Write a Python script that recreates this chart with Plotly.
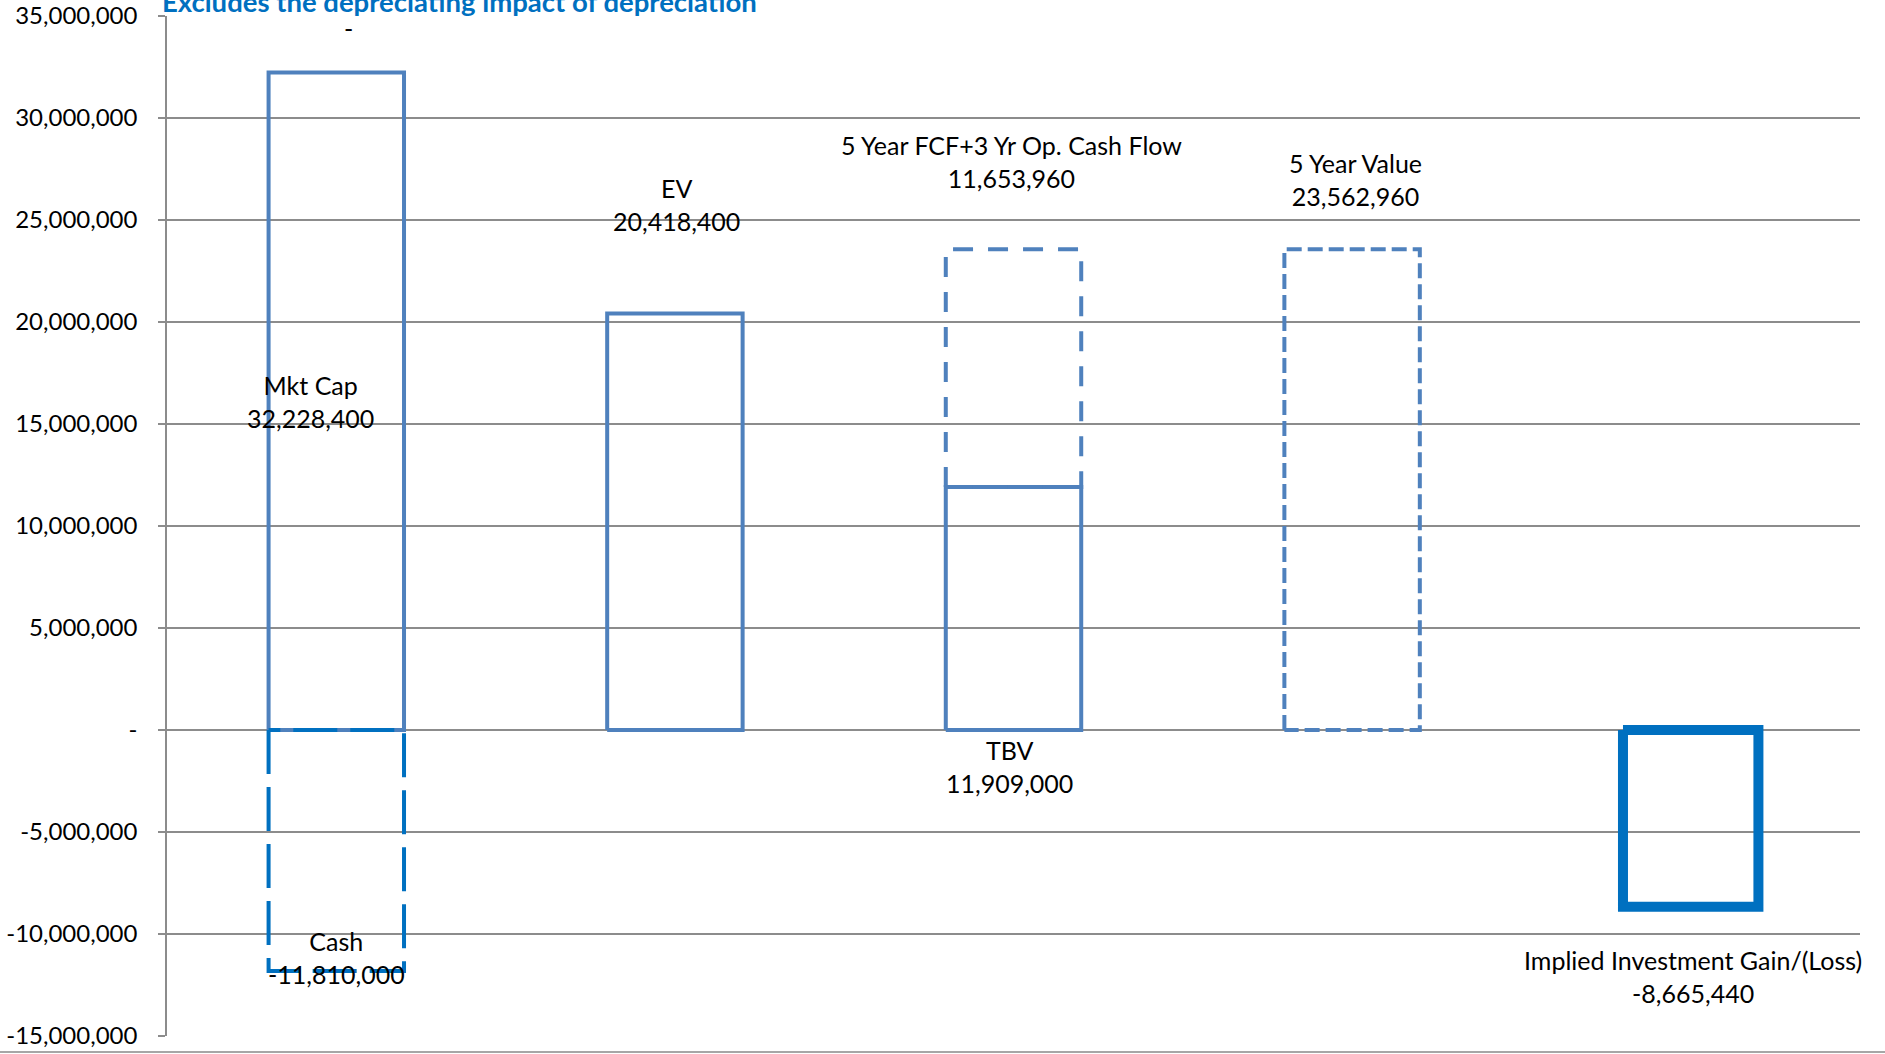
import plotly.graph_objects as go

# ---------------- data ----------------
categories = ["Mkt Cap / Cash", "EV", "TBV / 5 Year FCF", "5 Year Value", "Implied Investment Gain/(Loss)"]

segment_names = ["Mkt Cap", "Cash", "EV", "TBV", "5 Year FCF+3 Yr Op. Cash Flow", "5 Year Value",
                 "Implied Investment Gain/(Loss)"]
segment_category = [0, 0, 1, 2, 2, 3, 4]
segment_values = [32228400, -11810000, 20418400, 11909000, 11653960, 23562960, -8665440]
# the FCF segment (index 4) is stacked on top of TBV (index 3)
segment_stacked_on = [None, None, None, None, 3, None, None]

tick_values = [35000000, 30000000, 25000000, 20000000, 15000000, 10000000, 5000000, 0,
               -5000000, -10000000, -15000000]
tick_labels = ["35,000,000", "30,000,000", "25,000,000", "20,000,000", "15,000,000", "10,000,000",
               "5,000,000", "-", "-5,000,000", "-10,000,000", "-15,000,000"]

title_text = "Excludes the depreciating impact of depreciation"

# ---------------- styles ----------------
C_STEEL = "#4F81BD"
C_BLUE = "#0070C0"
seg_style = [
    dict(color=C_STEEL, width=4, dash="solid"),
    dict(color=C_BLUE, width=4, dash="44px,13px"),
    dict(color=C_STEEL, width=4, dash="solid"),
    dict(color=C_STEEL, width=4, dash="solid"),
    dict(color=C_STEEL, width=4, dash="20px,15px"),
    dict(color=C_STEEL, width=4, dash="15px,6px"),
    dict(color=C_BLUE, width=10, dash="solid"),
]
# label anchor: 'mid', 'end' (value end), 'base'; shifts in px
label_anchor = ["mid", "end", "end", "base", "end", "end", "end"]
label_xshift = [-26, 0, 2, -4, -2, 3, 2]
label_yshift = [0, 13.5, 109, -36.5, 88, 70, -70]

BAR_W = 0.40
FONT = "Lato"
FS = 25
TICK_FS = 24
TITLE_FS = 27.5

fig = go.Figure()

bases = []
for i, v in enumerate(segment_values):
    b = 0 if segment_stacked_on[i] is None else segment_values[segment_stacked_on[i]]
    bases.append(b)

for i, (c, v) in enumerate(zip(segment_category, segment_values)):
    b = bases[i]
    x0, x1 = c - BAR_W / 2, c + BAR_W / 2
    fig.add_trace(go.Scatter(
        x=[x0, x0, x1, x1, x0],
        y=[b, b + v, b + v, b, b],
        mode="lines",
        line=dict(color=seg_style[i]["color"], width=seg_style[i]["width"], dash=seg_style[i]["dash"]),
        hoverinfo="skip",
        showlegend=False,
        name=segment_names[i],
    ))

annotations = []
for i, (c, v) in enumerate(zip(segment_category, segment_values)):
    b = bases[i]
    if label_anchor[i] == "mid":
        y = b + v / 2
    elif label_anchor[i] == "end":
        y = b + v
    else:
        y = b
    annotations.append(dict(
        x=c, y=y, xref="x", yref="y",
        text=f"{segment_names[i]}<br>{segment_values[i]:,}",
        showarrow=False, xanchor="center", yanchor="middle",
        xshift=label_xshift[i], yshift=label_yshift[i],
        font=dict(family=FONT, size=FS, color="#000000"),
    ))

# stray "-" label above the first column
annotations.append(dict(
    x=0, y=tick_values[0], xref="x", yref="y", text="-", showarrow=False,
    xanchor="center", yanchor="middle", xshift=12, yshift=-12,
    font=dict(family=FONT, size=FS, color="#000000"),
))

annotations.append(dict(
    x=-0.004, y=1.0143, xref="paper", yref="paper",
    text=f"<b>{title_text}</b>", showarrow=False,
    xanchor="left", yanchor="middle",
    font=dict(family=FONT, size=TITLE_FS, color=C_BLUE),
))

fig.update_layout(
    width=1885, height=1054,
    margin=dict(l=167, r=25, t=15.6, b=18, autoexpand=False),
    paper_bgcolor="white", plot_bgcolor="white",
    annotations=annotations,
    shapes=[dict(type="line", xref="paper", yref="paper",
                 x0=-0.1, x1=1.02, y0=-0.0157, y1=-0.0157,
                 line=dict(color="#A6A6A6", width=2))],
    xaxis=dict(range=[-0.5, 4.5], showgrid=False, zeroline=False, showticklabels=False,
               showline=False, ticks="", automargin=False),
    yaxis=dict(range=[-15000000, 35000000], tickvals=tick_values, ticktext=tick_labels,
               showgrid=True, gridcolor="#8C8C8C", gridwidth=1.5,
               zeroline=False, showline=True, linecolor="#8C8C8C", linewidth=1.5,
               ticks="outside", ticklen=7, tickcolor="#8C8C8C", tickwidth=1.5,
               ticklabelstandoff=16, automargin=False,
               tickfont=dict(family=FONT, size=TICK_FS, color="#000000")),
)

fig.write_html("out.html")
